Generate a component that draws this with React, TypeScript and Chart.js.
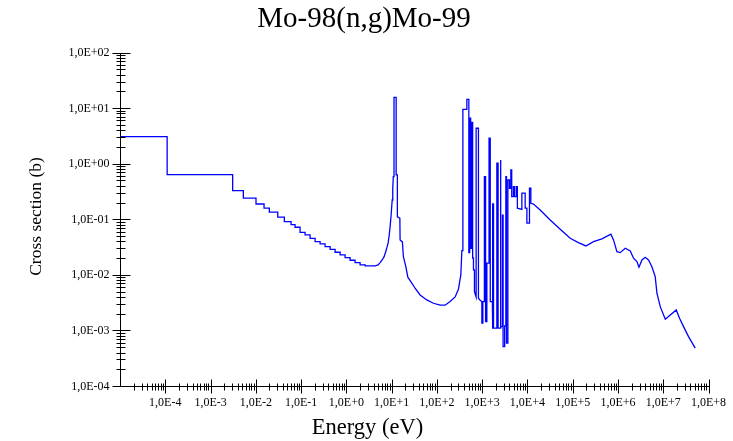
import { useEffect, useRef } from 'react';
import { Chart, registerables } from 'chart.js';

Chart.register(...registerables);

// Polyline vertices of the evaluated Mo-98(n,g) cross section (energy in eV, sigma in barn)
const energyEv: number[] = [
  1e-5, 1.1e-4, 1.1e-4, 3.08e-3, 3.08e-3, 5.3e-3, 5.3e-3, 1.01e-2, 1.01e-2, 1.52e-2,
  1.52e-2, 1.99e-2, 1.99e-2, 3.05e-2, 3.05e-2, 4.27e-2, 4.27e-2, 6.01e-2, 6.01e-2, 7.36e-2,
  7.36e-2, 9.5e-2, 9.5e-2, 0.1225, 0.158, 0.204, 0.263, 0.339, 0.438, 0.564,
  0.728, 0.938, 1.21, 1.56, 2.01, 2.6, 3.35, 4.32, 5.03, 5.57,
  6.17, 6.83, 7.37, 7.83, 8.37, 8.81, 9.27, 9.75, 10.3, 10.6,
  10.9, 11.3, 11.3, 12.6, 12.6, 13.4, 13.4, 15.2, 15.4, 17.3,
  18.2, 20.6, 22.8, 26.6, 33.0, 42.6, 59.9, 83.9, 118, 152,
  196, 253, 299, 338, 356, 375, 375, 459, 459, 508,
  508, 530, 530, 557, 557, 586, 586, 617, 617, 643,
  643, 676, 676, 736, 736, 828, 828, 903, 985, 985,
  1036, 1036, 1120, 1120, 1190, 1190, 1270, 1270, 1420, 1420,
  1510, 1510, 1680, 1680, 1723, 1723, 1760, 1760, 1795, 1795,
  2112, 2112, 2250, 2250, 2500, 2500, 2600, 2600, 2810, 2810,
  2900, 2900, 3143, 3143, 3340, 3340, 3450, 3450, 3700, 3700,
  4011, 4011, 4300, 4300, 4500, 4500, 4900, 4900, 5200, 5200,
  5700, 5700, 6000, 6000, 7540, 7540, 8913, 8913, 9730, 9730,
  11100, 11100, 11900, 11900, 13600, 19100, 31800, 53000, 88100, 134000,
  196000, 288000, 442000, 698000, 798000, 948000, 1.12e6, 1.45e6, 1.87e6, 2.21e6,
  2.62e6, 2.91e6, 3.39e6, 4.0e6, 4.73e6, 5.62e6, 6.65e6, 7.26e6, 8.59e6, 1.11e7,
  1.43e7, 1.94e7, 2.29e7, 2.81e7, 3.62e7, 5.09e7,
];

const sigmaBarn: number[] = [
  3.06, 3.06, 0.634, 0.634, 0.327, 0.327, 0.239, 0.239, 0.188, 0.188,
  0.158, 0.158, 0.134, 0.134, 0.109, 0.109, 0.0906, 0.0906, 0.08, 0.08,
  0.0718, 0.0718, 0.0642, 0.0579, 0.0522, 0.0452, 0.0396, 0.036, 0.0322, 0.0286,
  0.0255, 0.0228, 0.0204, 0.0183, 0.0166, 0.0151, 0.0145, 0.0145, 0.0151, 0.0166,
  0.0185, 0.0212, 0.0258, 0.0305, 0.0375, 0.0501, 0.0736, 0.119, 0.222, 0.366,
  0.584, 0.584, 15.6, 15.6, 0.627, 0.627, 0.11, 0.105, 0.0425, 0.0391,
  0.0212, 0.014, 0.00905, 0.00755, 0.00574, 0.00435, 0.00354, 0.00308, 0.00284, 0.00284,
  0.0033, 0.004, 0.0055, 0.00995, 0.0272, 0.0272, 9.5, 9.5, 14.4, 14.4,
  0.025, 0.025, 6.56, 6.56, 0.03, 0.03, 5.5, 5.5, 0.02, 0.02,
  0.0123, 0.0123, 0.005, 0.004, 4.34, 4.34, 0.0038, 0.0035, 0.0033, 0.00135,
  0.00135, 0.0033, 0.0033, 0.584, 0.584, 0.00144, 0.00144, 0.0162, 0.0162, 2.87,
  2.87, 0.0033, 0.0033, 0.194, 0.194, 0.0011, 0.0011, 0.194, 0.194, 0.0011,
  0.0011, 1.02, 1.02, 0.0011, 0.0011, 1.17, 1.17, 0.00117, 0.00117, 0.119,
  0.119, 0.00051, 0.00051, 0.0012, 0.0012, 0.584, 0.584, 0.00059, 0.00059, 0.509,
  0.509, 0.361, 0.361, 0.771, 0.771, 0.255, 0.255, 0.386, 0.386, 0.255,
  0.255, 0.386, 0.386, 0.158, 0.15, 0.294, 0.294, 0.158, 0.158, 0.085,
  0.085, 0.361, 0.361, 0.194, 0.188, 0.147, 0.0971, 0.066, 0.0455, 0.0379,
  0.0331, 0.0396, 0.0443, 0.0537, 0.0425, 0.0261, 0.0251, 0.0301, 0.0269, 0.0199,
  0.0173, 0.0137, 0.0185, 0.0207, 0.0185, 0.014, 0.00929, 0.00467, 0.00268, 0.00159,
  0.0019, 0.00234, 0.00166, 0.00117, 0.000773, 0.000479,
];

// below this energy the 1/v part is drawn as a group-wise histogram (small steps)
const STEP_LIMIT_EV = 3.35;

const xTickValues: number[] = [1e-4, 1e-3, 1e-2, 1e-1, 1e0, 1e1, 1e2, 1e3, 1e4, 1e5, 1e6, 1e7, 1e8];
const xTickLabels: string[] = [
  '1,0E-4', '1,0E-3', '1,0E-2', '1,0E-1', '1,0E+0', '1,0E+1', '1,0E+2',
  '1,0E+3', '1,0E+4', '1,0E+5', '1,0E+6', '1,0E+7', '1,0E+8',
];
const yTickValues: number[] = [1e-4, 1e-3, 1e-2, 1e-1, 1e0, 1e1, 1e2];
const yTickLabels: string[] = ['1,0E-04', '1,0E-03', '1,0E-02', '1,0E-01', '1,0E+00', '1,0E+01', '1,0E+02'];

const X_MIN = 1e-5;
const X_MAX = 1e8;
const Y_MIN = 1e-4;
const Y_MAX = 1e2;

const TITLE = 'Mo-98(n,g)Mo-99';
const X_TITLE = 'Energy (eV)';
const Y_TITLE = 'Cross section (b)';

const SERIF = '"Liberation Serif", "Times New Roman", serif';
const LINE_BLUE = '#0000ff';

const decorPlugin = {
  id: 'decor',
  afterDraw(chart: any) {
    const ctx: CanvasRenderingContext2D = chart.ctx;
    const xs = chart.scales.x;
    const ys = chart.scales.y;
    const { left, right, top, bottom } = chart.chartArea;
    const ax = Math.round(left) + 0.5;
    const ay = Math.round(bottom) + 0.5;
    ctx.save();
    ctx.strokeStyle = '#000';
    ctx.lineWidth = 1;
    ctx.beginPath();
    ctx.moveTo(ax, Math.round(top) + 0.5);
    ctx.lineTo(ax, ay);
    ctx.lineTo(Math.round(right) + 0.5, ay);
    ctx.stroke();

    ctx.beginPath();
    for (let e = -4; e <= 2; e++) {
      const base = Math.pow(10, e);
      const py = Math.round(ys.getPixelForValue(base)) + 0.5;
      ctx.moveTo(ax - 8, py);
      ctx.lineTo(ax + 10, py);
      if (e < 2) {
        for (let m = 2; m <= 9; m++) {
          const p = Math.round(ys.getPixelForValue(base * m)) + 0.5;
          ctx.moveTo(ax - 4, p);
          ctx.lineTo(ax + 5, p);
        }
      }
    }
    for (let e = -5; e <= 8; e++) {
      const base = Math.pow(10, e);
      const px = Math.round(xs.getPixelForValue(base)) + 0.5;
      if (e > -5) {
        ctx.moveTo(px, ay - 7);
        ctx.lineTo(px, ay + 7);
      }
      if (e < 8) {
        for (let m = 2; m <= 9; m++) {
          const p = Math.round(xs.getPixelForValue(base * m)) + 0.5;
          ctx.moveTo(p, ay - 3);
          ctx.lineTo(p, ay + 4);
        }
      }
    }
    ctx.stroke();

    ctx.fillStyle = '#000';
    ctx.font = `12px ${SERIF}`;
    ctx.textAlign = 'right';
    ctx.textBaseline = 'middle';
    yTickValues.forEach((v, i) => {
      ctx.fillText(yTickLabels[i], ax - 11, ys.getPixelForValue(v) + 0.5);
    });
    ctx.textAlign = 'center';
    ctx.textBaseline = 'alphabetic';
    xTickValues.forEach((v, i) => {
      ctx.fillText(xTickLabels[i], xs.getPixelForValue(v), 405.5);
    });

    ctx.font = `29px ${SERIF}`;
    ctx.fillText(TITLE, 364, 27);
    ctx.font = `22.5px ${SERIF}`;
    ctx.fillText(X_TITLE, 367.5, 434);
    ctx.save();
    ctx.translate(40.5, 216.5);
    ctx.rotate(-Math.PI / 2);
    ctx.font = `17.5px ${SERIF}`;
    ctx.fillText(Y_TITLE, 0, 0);
    ctx.restore();
    ctx.restore();
  },
};

export default function App() {
  const ref = useRef<HTMLCanvasElement>(null);
  useEffect(() => {
    const canvas = ref.current;
    if (!canvas) return;
    const points = energyEv.map((e, i) => ({ x: e, y: sigmaBarn[i] }));
    const split = energyEv.indexOf(STEP_LIMIT_EV);
    const lowPart = points.slice(0, split + 1);
    const highPart = points.slice(split);
    const common = {
      borderColor: LINE_BLUE,
      borderWidth: 1.3,
      pointRadius: 0,
      fill: false,
      tension: 0,
    };
    const chart = new Chart(canvas, {
      type: 'line',
      data: {
        datasets: [
          { ...common, data: lowPart, stepped: 'after' },
          { ...common, data: highPart },
        ],
      },
      options: {
        animation: false,
        responsive: false,
        devicePixelRatio: 1,
        events: [],
        layout: { padding: { left: 120, right: 24.5, top: 52.5, bottom: 55 } },
        plugins: {
          legend: { display: false },
          tooltip: { enabled: false },
          title: { display: false },
        },
        scales: {
          x: { type: 'logarithmic', min: X_MIN, max: X_MAX, display: false },
          y: { type: 'logarithmic', min: Y_MIN, max: Y_MAX, display: false },
        },
      },
      plugins: [decorPlugin],
    } as any);
    return () => chart.destroy();
  }, []);
  return (
    <div style={{ position: 'absolute', left: 0, top: 0, width: 733, height: 441, background: '#fff' }}>
      <canvas ref={ref} width={733} height={441} style={{ width: 733, height: 441, display: 'block' }} />
    </div>
  );
}
